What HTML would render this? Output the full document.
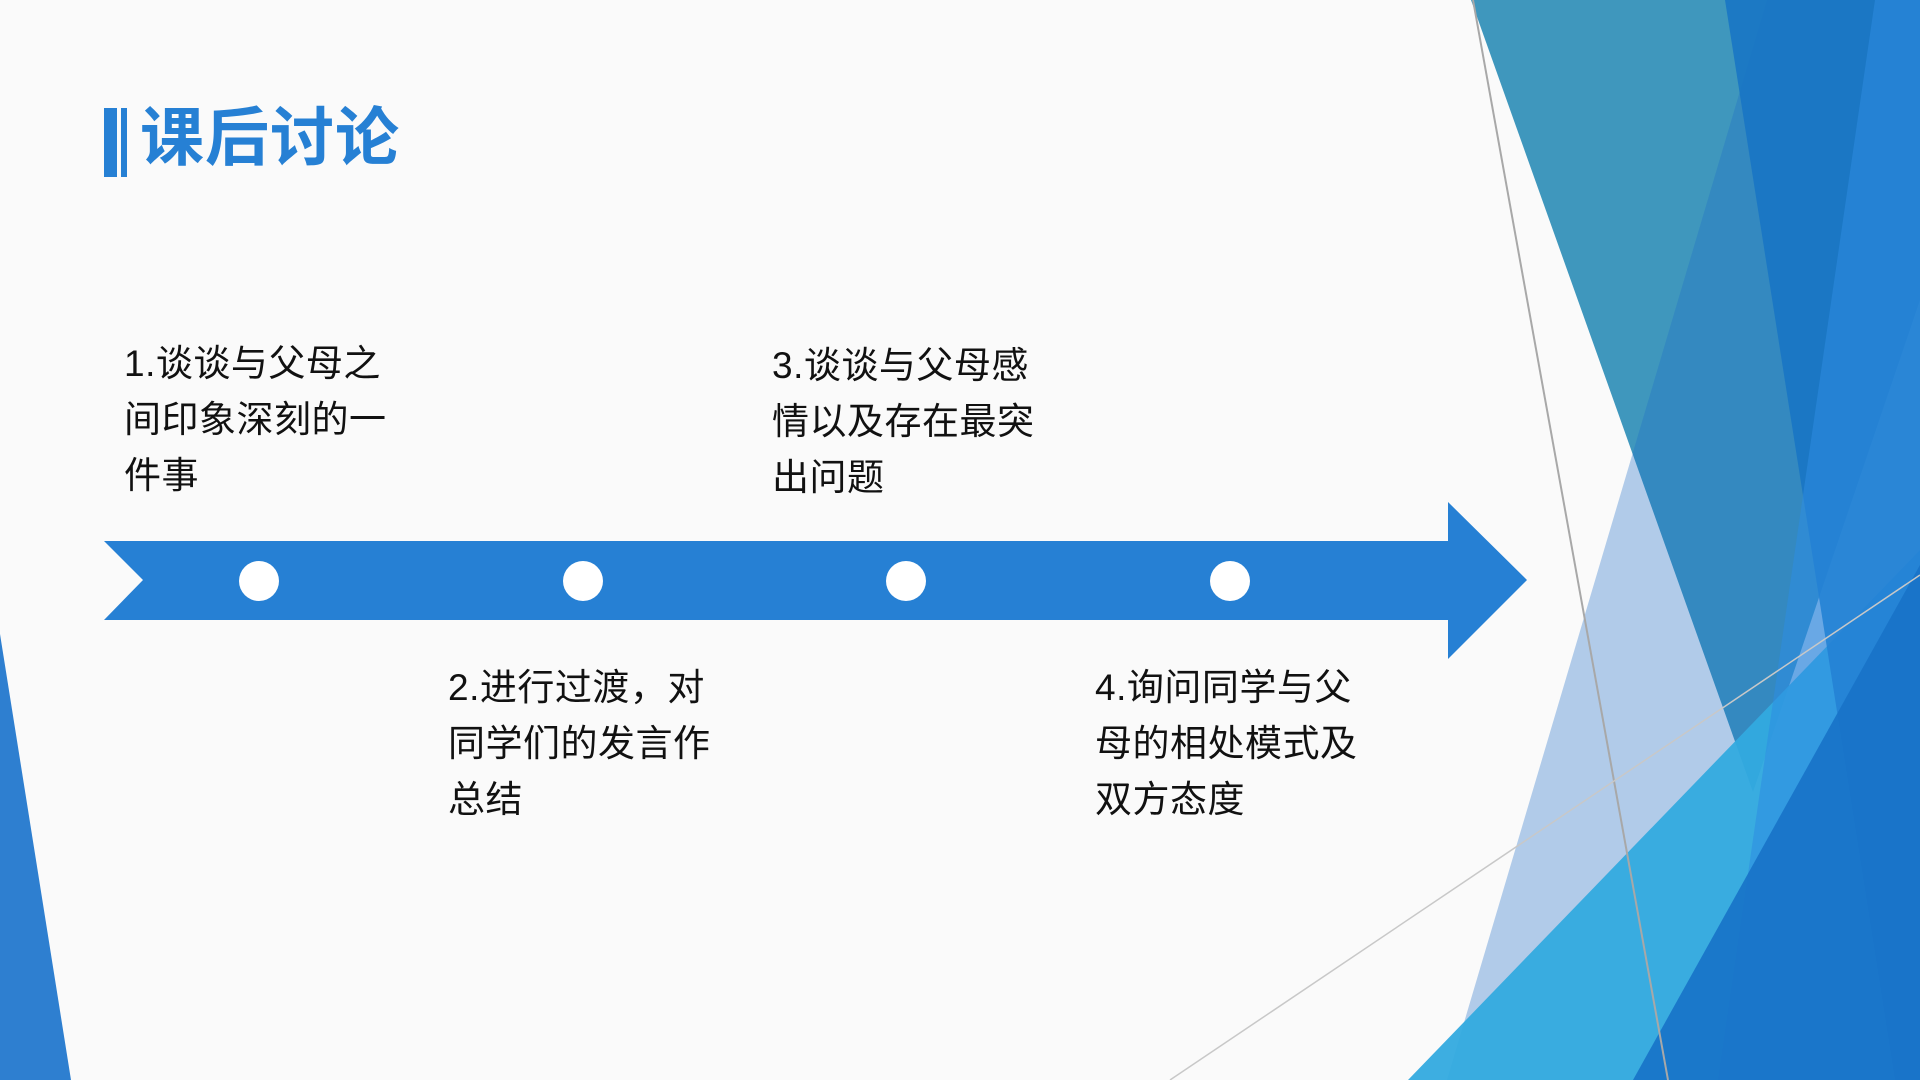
<!DOCTYPE html>
<html><head><meta charset="utf-8"><style>
html,body{margin:0;padding:0;}
body{width:1920px;height:1080px;background:#fafafa;position:relative;overflow:hidden;font-family:"Liberation Sans","Noto Sans CJK SC",sans-serif;}
.t{position:absolute;font-size:37px;letter-spacing:0.5px;line-height:56px;color:#111;white-space:nowrap;}
</style></head><body>
<svg width="1920" height="1080" style="position:absolute;left:0;top:0">
  <polygon points="0,634 0,1080 71,1080" fill="#2e7fd0"/>
  <polygon points="1471,0 1920,0 1920,300 1753,792" fill="#3f97bd"/>
  <polygon points="1767,0 1920,0 1920,1080 1447,1080" fill="rgba(30,110,200,0.33)"/>
  <polygon points="1408,1080 1920,550 1920,1080" fill="#33aadf" opacity="0.95"/>
  <polygon points="1725,0 1920,0 1920,1080 1895,1080" fill="rgba(24,118,196,0.9)"/>
  <polygon points="1875,0 1920,0 1920,1080 1718,1080" fill="rgba(45,140,225,0.55)"/>
  <polygon points="1633,1080 1920,565 1920,1080" fill="#1873c8" opacity="0.92"/>
  <line x1="1473" y1="0" x2="1668" y2="1080" stroke="#a8a8a8" stroke-width="2"/>
  <line x1="1170" y1="1080" x2="1920" y2="575" stroke="#c8c8c8" stroke-width="1.5"/>
  <polygon points="104,541 1448,541 1448,502 1527,580 1448,659 1448,620 104,620 143,580" fill="#2680d4"/>
  <circle cx="259" cy="581" r="20" fill="#fff"/>
  <circle cx="583" cy="581" r="20" fill="#fff"/>
  <circle cx="906" cy="581" r="20" fill="#fff"/>
  <circle cx="1230" cy="581" r="20" fill="#fff"/>
  <rect x="104" y="108" width="13" height="69" fill="#2680d4"/>
  <rect x="121" y="108" width="6" height="69" fill="#2680d4"/>
</svg>
<div style="position:absolute;left:140px;top:98px;font-size:64px;font-weight:bold;color:#2680d4;line-height:80px;letter-spacing:1px;">课后讨论</div>
<div class="t" style="left:124px;top:336px;">1.谈谈与父母之<br>间印象深刻的一<br>件事</div>
<div class="t" style="left:772px;top:338px;">3.谈谈与父母感<br>情以及存在最突<br>出问题</div>
<div class="t" style="left:448px;top:660px;">2.进行过渡，对<br>同学们的发言作<br>总结</div>
<div class="t" style="left:1095px;top:660px;">4.询问同学与父<br>母的相处模式及<br>双方态度</div>
</body></html>
